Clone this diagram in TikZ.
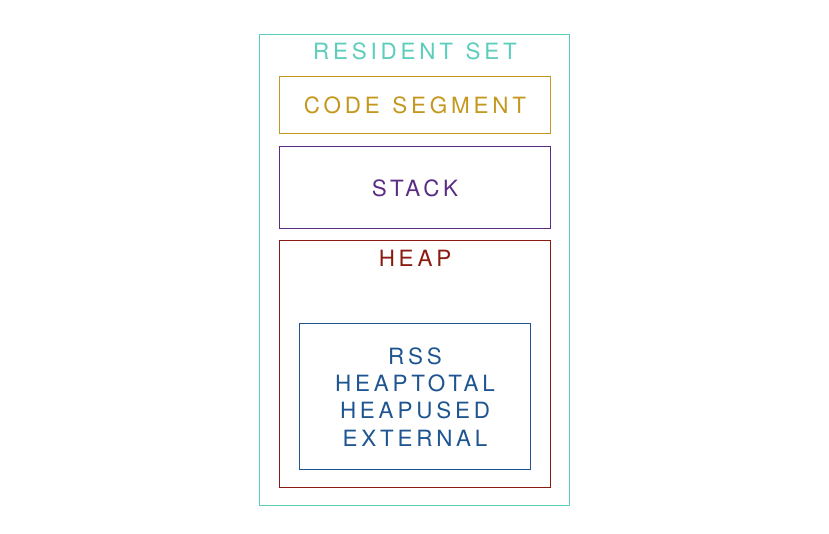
\documentclass[tikz,border=0pt]{standalone}
\usepackage{fontspec}
\setmainfont{TeX Gyre Heros}[LetterSpace=17, WordSpace=1.25]
\definecolor{residentc}{HTML}{5BCDBB}
\definecolor{codec}{HTML}{C4981E}
\definecolor{stackc}{HTML}{5B2C83}
\definecolor{heapc}{HTML}{8B1A10}
\definecolor{memc}{HTML}{1E5590}

\begin{document}
\begin{tikzpicture}[x=1bp, y=-1bp,
  box/.style={draw, line width=1bp, inner sep=0pt},
  lbl/.style={font=\fontsize{22.5}{27.3}\selectfont, align=center, inner sep=0pt}]
				\useasboundingbox (0, 0) rectangle (829, 534);

				% 箱
				\node[box, residentc, minimum width=310bp, minimum height=471bp] (R) at (414.5, 270) {};
				\node[box, codec, minimum width=271bp, minimum height=57bp] (C) at (415, 105) {};
				\node[box, stackc, minimum width=271bp, minimum height=82bp] (S) at (415, 187.5) {};
				\node[box, heapc, minimum width=271bp, minimum height=247bp] (H) at (415, 364) {};
				\node[box, memc, minimum width=231bp, minimum height=146bp] (M) at (415, 396.5) {};

				% 文字を入れる
				\node[lbl, residentc] (Rt) at (415, 51.5) {RESIDENT SET};
				\node[lbl, codec] (Ct) at (415, 105) {CODE SEGMENT};
				\node[lbl, stackc] (St) at (415, 188) {STACK};
				\node[lbl, heapc] (Ht) at (415, 258) {HEAP};
				\node[lbl, memc] (Mt) at (415, 397) {RSS\\HEAPTOTAL\\HEAPUSED\\EXTERNAL};

			\end{tikzpicture}
\end{document}
